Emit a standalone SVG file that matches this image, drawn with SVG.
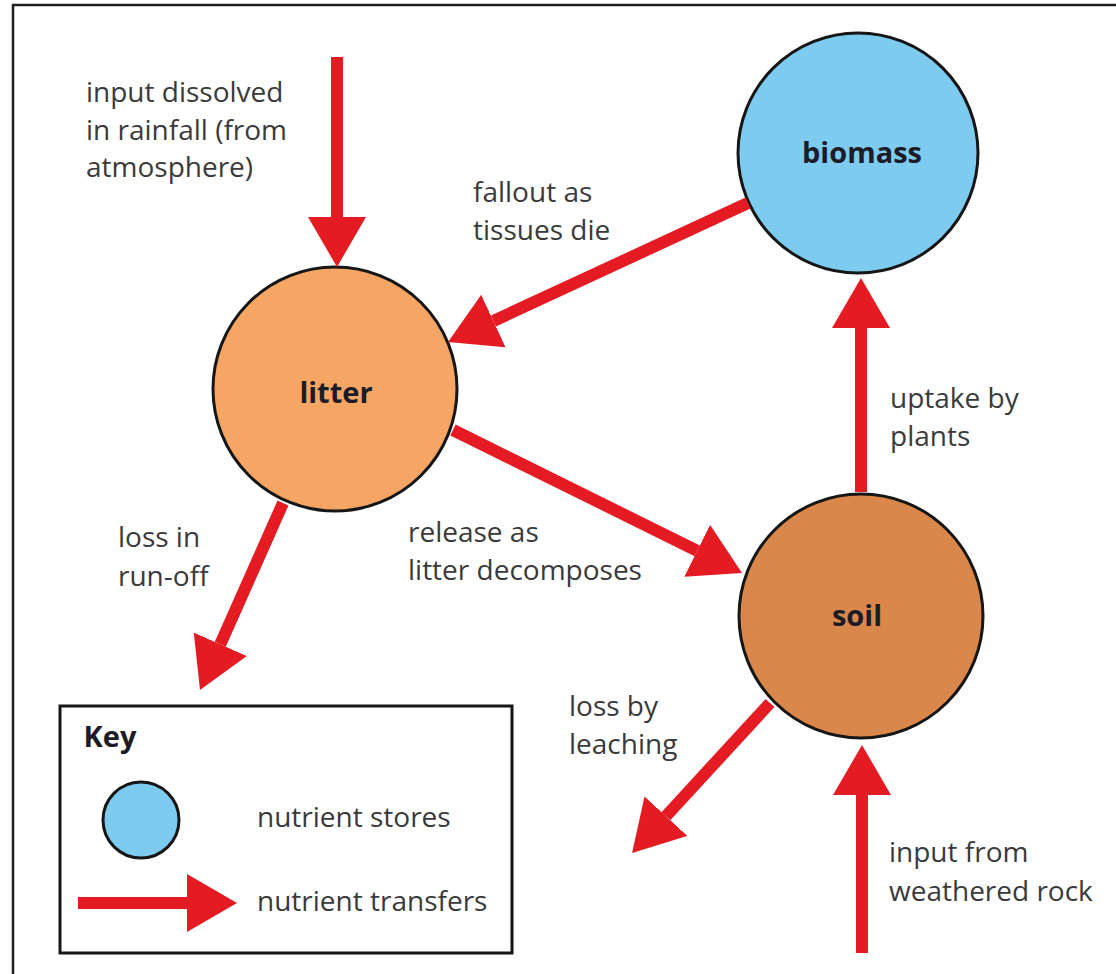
<svg xmlns="http://www.w3.org/2000/svg" width="1116" height="974" viewBox="0 0 1116 974">
  <style>
    .label { font-family: "Open Sans", "Liberation Sans", sans-serif; font-size: 28px; fill: #3a3a3a; }
    .name { font-family: "Open Sans", "Liberation Sans", sans-serif; font-size: 29px; font-weight: bold; fill: #1c1c28; text-anchor: middle; }
    .flow { stroke: #e41b23; stroke-width: 12; fill: none; marker-end: url(#head); }
    .store { stroke: #161616; stroke-width: 3; }
  </style>
  <defs>
    <marker id="head" markerUnits="userSpaceOnUse" markerWidth="52" markerHeight="60" refX="0" refY="29" orient="auto" viewBox="0 0 52 60">
      <path d="M0,0 L50,29 L0,58 Z" fill="#e41b23"/>
    </marker>
  </defs>

  <rect width="1116" height="974" fill="#ffffff"/>
  <!-- frame -->
  <path d="M13,974 V5 H1116" fill="none" stroke="#1e1e1e" stroke-width="2.5"/>

  <!-- stores -->
  <g id="biomass">
    <circle class="store" cx="858" cy="153" r="120" fill="#7ecbf0"/>
    <text class="name" x="862" y="163">biomass</text>
  </g>
  <g id="litter">
    <circle class="store" cx="335" cy="389" r="122" fill="#f5a564"/>
    <text class="name" x="336" y="403">litter</text>
  </g>
  <g id="soil">
    <circle class="store" cx="861" cy="616" r="122" fill="#da874b"/>
    <text class="name" x="857" y="626">soil</text>
  </g>

  <!-- transfers -->
  <g id="connectors">
    <line class="flow" x1="337" y1="57" x2="337" y2="217"/>
    <line class="flow" x1="748" y1="203" x2="493.4" y2="321"/>
    <line class="flow" x1="453" y1="430" x2="697.2" y2="550.8"/>
    <line class="flow" x1="861" y1="492" x2="861" y2="328"/>
    <line class="flow" x1="283" y1="503" x2="220.3" y2="644.3"/>
    <line class="flow" x1="770" y1="703" x2="665.9" y2="816.2"/>
    <line class="flow" x1="862" y1="953" x2="862" y2="795"/>
  </g>

  <!-- transfer labels -->
  <g id="labels">
    <text class="label" x="86" y="102">input dissolved</text>
    <text class="label" x="86" y="140">in rainfall (from</text>
    <text class="label" x="86" y="177">atmosphere)</text>

    <text class="label" x="473" y="202">fallout as</text>
    <text class="label" x="473" y="240">tissues die</text>

    <text class="label" x="890" y="408">uptake by</text>
    <text class="label" x="890" y="446">plants</text>

    <text class="label" x="118" y="547">loss in</text>
    <text class="label" x="118" y="586">run-off</text>

    <text class="label" x="408" y="542">release as</text>
    <text class="label" x="408" y="580">litter decomposes</text>

    <text class="label" x="569" y="716">loss by</text>
    <text class="label" x="569" y="754">leaching</text>

    <text class="label" x="889" y="862">input from</text>
    <text class="label" x="889" y="901">weathered rock</text>
  </g>

  <!-- key -->
  <g id="key">
    <rect x="60" y="706" width="452" height="247" fill="#ffffff" stroke="#161616" stroke-width="3"/>
    <text class="name" x="110" y="747">Key</text>
    <circle class="store" cx="141" cy="820" r="38" fill="#7ecbf0"/>
    <text class="label" x="257" y="827">nutrient stores</text>
    <line class="flow" x1="78" y1="903" x2="187" y2="903"/>
    <text class="label" x="257" y="911">nutrient transfers</text>
  </g>
</svg>
